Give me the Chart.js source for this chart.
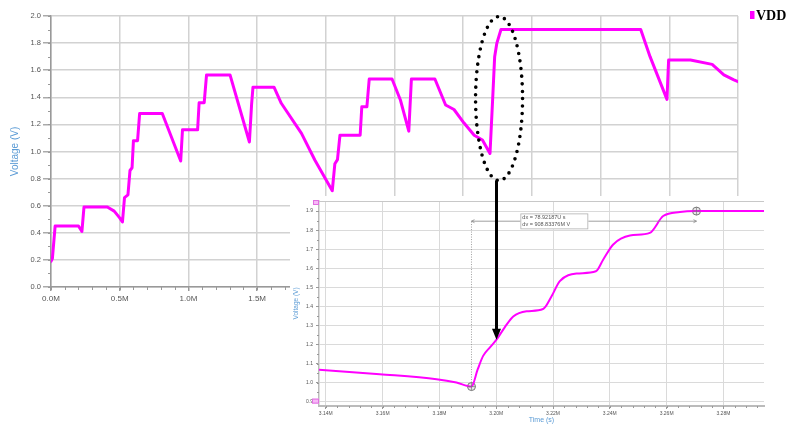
<!DOCTYPE html>
<html><head><meta charset="utf-8">
<script src="https://cdn.jsdelivr.net/npm/chart.js@4.4.1/dist/chart.umd.min.js"></script>
<style>
html,body{margin:0;padding:0;background:#fff;}
#wrap{position:relative;width:791px;height:424px;overflow:hidden;}
canvas{position:absolute;left:0;top:0;}
</style></head><body>
<div id="wrap"><canvas id="main" width="791" height="424"></canvas><canvas id="inset" width="791" height="424"></canvas></div>
<script>
// ---------- data ----------
const seriesName = 'VDD';
const mainTimeM = [0.00,0.01,0.02,0.03,0.20,0.225,0.24,0.41,0.46,0.50,0.52,0.535,0.56,0.575,0.59,0.60,0.63,0.645,0.81,0.944,0.957,1.067,1.078,1.115,1.132,1.303,1.444,1.46,1.47,1.623,1.676,1.823,1.92,2.047,2.066,2.085,2.103,2.25,2.262,2.299,2.316,2.482,2.543,2.604,2.623,2.794,2.872,2.933,3.006,3.08,3.14,3.195,3.215,3.229,3.245,3.275,4.292,4.36,4.483,4.495,4.654,4.812,4.897,4.97,5.0];
const mainVoltage = [0.19,0.21,0.33,0.45,0.45,0.41,0.59,0.59,0.56,0.51,0.48,0.66,0.68,0.86,0.88,1.08,1.08,1.28,1.28,0.93,1.16,1.16,1.36,1.36,1.565,1.565,1.07,1.35,1.475,1.475,1.356,1.134,0.937,0.71,0.91,0.94,1.12,1.12,1.33,1.33,1.535,1.535,1.38,1.15,1.535,1.535,1.343,1.31,1.21,1.12,1.085,0.985,1.40,1.70,1.80,1.90,1.90,1.70,1.385,1.675,1.675,1.643,1.565,1.528,1.515];

const insetTimeM = [3.1376,3.159,3.179,3.186,3.1913,3.1935,3.1954,3.1978,3.2001,3.203,3.206,3.2107,3.2165,3.2195,3.2224,3.2283,3.2351,3.2377,3.2412,3.2471,3.2541,3.2588,3.2647,3.27,3.2943];
const insetVoltage = [1.067,1.044,1.018,1.000,0.979,1.07,1.14,1.185,1.225,1.29,1.347,1.374,1.386,1.453,1.532,1.572,1.584,1.646,1.725,1.772,1.786,1.874,1.895,1.9,1.9];

const markerTimeM = [3.19130, 3.27052];
const markerVoltage = [0.979, 1.9];
const annotationLines = ['dx = 78.92187U s', 'dv = 908.83376M V'];

const mainXTickValues = [0,0.5,1.0,1.5,2.0,2.5,3.0,3.5,4.0,4.5,5.0];
const mainXTickLabels = ['0.0M','0.5M','1.0M','1.5M','2.0M','2.5M','3.0M','3.5M','4.0M','4.5M','5.0M'];
const mainYTickValues = [0,0.2,0.4,0.6,0.8,1.0,1.2,1.4,1.6,1.8,2.0];
const mainYTickLabels = ['0.0','0.2','0.4','0.6','0.8','1.0','1.2','1.4','1.6','1.8','2.0'];
const insetXTickValues = [3.14,3.16,3.18,3.20,3.22,3.24,3.26,3.28];
const insetXTickLabels = ['3.14M','3.16M','3.18M','3.20M','3.22M','3.24M','3.26M','3.28M'];
const insetYTickValues = [0.9,1.0,1.1,1.2,1.3,1.4,1.5,1.6,1.7,1.8,1.9];
const insetYTickLabels = ['0.9','1.0','1.1','1.2','1.3','1.4','1.5','1.6','1.7','1.8','1.9'];

// ---------- helpers ----------
const MAG = '#ff00ff';
const BLUE = '#5b9bd5';
function minorTicks(ctx, scale, step, len, color, horizontal){
  ctx.save(); ctx.strokeStyle = color; ctx.lineWidth = 1; ctx.beginPath();
  const start = Math.ceil(scale.min/step - 1e-9);
  const end = Math.floor(scale.max/step + 1e-9);
  for (let k = start; k <= end; k++){
    const v = k*step;
    const p = Math.round(scale.getPixelForValue(v)) + 0.5;
    if (horizontal){ ctx.moveTo(p, scale.top); ctx.lineTo(p, scale.top+len); }
    else { ctx.moveTo(scale.right-len, p); ctx.lineTo(scale.right, p); }
  }
  ctx.stroke(); ctx.restore();
}

const mainExtras = {
  id:'mainExtras',
  afterDraw(chart){
    const ctx = chart.ctx, a = chart.chartArea;
    minorTicks(ctx, chart.scales.x, 0.1, 3, '#999', true);
    minorTicks(ctx, chart.scales.y, 0.1, 3, '#999', false);
    // legend
    ctx.save();
    ctx.fillStyle = MAG;
    ctx.fillRect(a.right + 12, a.top - 5, 4.5, 8);
    ctx.fillStyle = '#000';
    ctx.font = 'bold 14px "Liberation Serif"';
    ctx.textBaseline = 'middle';
    ctx.fillText(seriesName, a.right + 18, a.top + 0.5);
    ctx.restore();
  }
};

const mainChart = new Chart(document.getElementById('main'), {
  type:'line',
  data:{ datasets:[{
    label: seriesName,
    data: mainTimeM.map((x,i)=>({x, y: mainVoltage[i]})),
    borderColor: MAG, borderWidth: 3, pointRadius: 0, tension: 0, fill:false,
    borderJoinStyle:'round', borderCapStyle:'round'
  }]},
  options:{
    responsive:false, animation:false, devicePixelRatio:1,
    layout:{padding:{left:0, top:16, right:53, bottom:117}},
    plugins:{legend:{display:false}, tooltip:{enabled:false}},
    scales:{
      x:{ type:'linear', min:0, max:5,
        afterFit: s => { s.height = 20; },
        afterBuildTicks: s => { s.ticks = mainXTickValues.map(v=>({value:v})); },
        ticks:{ callback:(v,i)=>mainXTickLabels[i], font:{family:'Liberation Sans', size:8}, color:'#555', padding:3, maxRotation:0, autoSkip:false },
        grid:{ color:'#d2d2d2', lineWidth:1.5, tickLength:4, tickColor:'#999' },
        border:{ color:'#999', width:1.5 }
      },
      y:{ type:'linear', min:0, max:2,
        afterFit: s => { s.width = 51; },
        afterBuildTicks: s => { s.ticks = mainYTickValues.map(v=>({value:v})); },
        ticks:{ callback:(v,i)=>mainYTickLabels[i], font:{family:'Liberation Sans', size:7.5}, color:'#555', padding:2, autoSkip:false },
        grid:{ color:'#d2d2d2', lineWidth:1.5, tickLength:8, tickColor:'#aaa' },
        border:{ color:'#999', width:1.5 },
        title:{ display:true, text:'Voltage (V)', color:BLUE, font:{family:'Liberation Sans', size:10}, padding:{top:9, bottom:0} }
      }
    }
  },
  plugins:[mainExtras]
});

// ---------- inset ----------
const insetBg = {
  id:'insetBg',
  beforeDraw(chart){
    const ctx = chart.ctx, a = chart.chartArea;
    ctx.save(); ctx.fillStyle = '#fff';
    ctx.fillRect(a.left - 29, a.top - 5, chart.width - (a.left - 29), chart.height - (a.top - 5));
    ctx.restore();
  }
};

const insetExtras = {
  id:'insetExtras',
  afterDraw(chart){
    const ctx = chart.ctx, a = chart.chartArea, xs = chart.scales.x, ys = chart.scales.y;
    ctx.save();
    ctx.strokeStyle = '#c8c8c8'; ctx.lineWidth = 1;
    ctx.beginPath(); ctx.moveTo(a.left, Math.round(a.top)+0.5); ctx.lineTo(a.right, Math.round(a.top)+0.5); ctx.stroke();
    minorTicks(ctx, xs, 0.004, 2, '#999', true);
    minorTicks(ctx, ys, 0.05, 2, '#999', false);
    ctx.fillStyle = '#f7b8f7'; ctx.strokeStyle = '#e070e0';
    ctx.fillRect(a.left-6, a.top-1, 6, 5); ctx.strokeRect(a.left-6+0.5, a.top-0.5, 5, 4);
    ctx.fillRect(a.left-7, ys.getPixelForValue(0.9)-3, 7, 5); ctx.strokeRect(a.left-7+0.5, ys.getPixelForValue(0.9)-2.5, 6, 4);

    const x1 = xs.getPixelForValue(markerTimeM[0]), x2 = xs.getPixelForValue(markerTimeM[1]);
    const y1 = ys.getPixelForValue(markerVoltage[0]);
    const yh = ys.getPixelForValue(1.847);
    ctx.strokeStyle = '#888'; ctx.lineWidth = 0.8;
    ctx.setLineDash([1,1.5]);
    ctx.beginPath(); ctx.moveTo(x1, y1-4); ctx.lineTo(x1, yh); ctx.stroke();
    ctx.setLineDash([]);
    ctx.beginPath(); ctx.moveTo(x1, yh); ctx.lineTo(x2, yh); ctx.stroke();
    ctx.beginPath();
    ctx.moveTo(x1+3, yh-1.5); ctx.lineTo(x1, yh); ctx.lineTo(x1+3, yh+1.5);
    ctx.moveTo(x2-3, yh-1.5); ctx.lineTo(x2, yh); ctx.lineTo(x2-3, yh+1.5);
    ctx.stroke();
    const bx = xs.getPixelForValue(3.2085), by = ys.getPixelForValue(1.888);
    ctx.fillStyle = '#fff'; ctx.fillRect(bx, by, 68, 16);
    ctx.strokeStyle = '#b0b0b0'; ctx.strokeRect(bx+0.5, by+0.5, 67, 15);
    ctx.fillStyle = '#555'; ctx.font = '5.5px "Liberation Sans"'; ctx.textBaseline = 'middle';
    ctx.fillText(annotationLines[0], bx+2, by+4.5);
    ctx.fillText(annotationLines[1], bx+2, by+11.5);
    ctx.strokeStyle = '#777'; ctx.lineWidth = 0.7;
    markerTimeM.forEach((t,i)=>{
      const px = xs.getPixelForValue(t), py = ys.getPixelForValue(markerVoltage[i]);
      ctx.beginPath(); ctx.moveTo(px-4,py); ctx.lineTo(px+4,py); ctx.moveTo(px,py-4); ctx.lineTo(px,py+4); ctx.stroke();
    });
    ctx.restore();

    const mx = mainChart.scales.x, my = mainChart.scales.y;
    const cx = mx.getPixelForValue(3.261), cy = my.getPixelForValue(1.391);
    const rx = 23.5, ry = 82;
    ctx.save();
    ctx.strokeStyle = '#000'; ctx.lineWidth = 3.6; ctx.lineCap = 'round';
    ctx.setLineDash([0, 7.6]);
    ctx.beginPath(); ctx.ellipse(cx, cy, rx, ry, 0, 0, Math.PI*2); ctx.stroke();
    ctx.setLineDash([]); ctx.lineCap = 'butt';
    const ax = xs.getPixelForValue(3.2001);
    const ayEnd = ys.getPixelForValue(1.225);
    ctx.lineWidth = 3;
    ctx.beginPath(); ctx.moveTo(ax, cy + ry); ctx.lineTo(ax, ayEnd - 9); ctx.stroke();
    ctx.fillStyle = '#000';
    ctx.beginPath(); ctx.moveTo(ax-4.5, ayEnd-11); ctx.lineTo(ax+4.5, ayEnd-11); ctx.lineTo(ax, ayEnd); ctx.closePath(); ctx.fill();
    ctx.restore();
  }
};

const insetChart = new Chart(document.getElementById('inset'), {
  type:'line',
  data:{ datasets:[
    { label: seriesName,
      data: insetTimeM.map((x,i)=>({x, y: insetVoltage[i]})),
      borderColor: MAG, borderWidth: 2, pointRadius: 0, cubicInterpolationMode:'monotone', fill:false },
    { label: 'cursors',
      data: markerTimeM.map((x,i)=>({x, y: markerVoltage[i]})),
      showLine:false, pointRadius:4, pointStyle:'circle', borderColor:'#777', borderWidth:1, backgroundColor:'rgba(190,190,190,0.35)' }
  ]},
  options:{
    responsive:false, animation:false, devicePixelRatio:1,
    layout:{padding:{left:288, top:201, right:27, bottom:0}},
    plugins:{legend:{display:false}, tooltip:{enabled:false}},
    scales:{
      x:{ type:'linear', min:3.1376, max:3.2943,
        afterFit: s => { s.height = 18; },
        afterBuildTicks: s => { s.ticks = insetXTickValues.map(v=>({value:v})); },
        ticks:{ callback:(v,i)=>insetXTickLabels[i], font:{family:'Liberation Sans', size:5}, color:'#555', padding:2, maxRotation:0, autoSkip:false },
        grid:{ color:'#dadada', lineWidth:1, tickLength:3, tickColor:'#999' },
        border:{ color:'#bbb', width:2 },
        title:{ display:true, text:'Time (s)', color:BLUE, font:{family:'Liberation Sans', size:7}, padding:{top:0, bottom:0} }
      },
      y:{ type:'linear', min:0.877, max:1.953,
        afterFit: s => { s.width = 31; },
        afterBuildTicks: s => { s.ticks = insetYTickValues.map(v=>({value:v})); },
        ticks:{ callback:(v,i)=>insetYTickLabels[i], font:{family:'Liberation Sans', size:5}, color:'#555', padding:3, autoSkip:false },
        grid:{ color:'#dadada', lineWidth:1, tickLength:3, tickColor:'#999' },
        border:{ color:'#bbb', width:1.5 },
        title:{ display:true, text:'Voltage (V)', color:BLUE, font:{family:'Liberation Sans', size:6.5}, padding:{top:4, bottom:0} }
      }
    }
  },
  plugins:[insetBg, insetExtras]
});
</script>
</body></html>
